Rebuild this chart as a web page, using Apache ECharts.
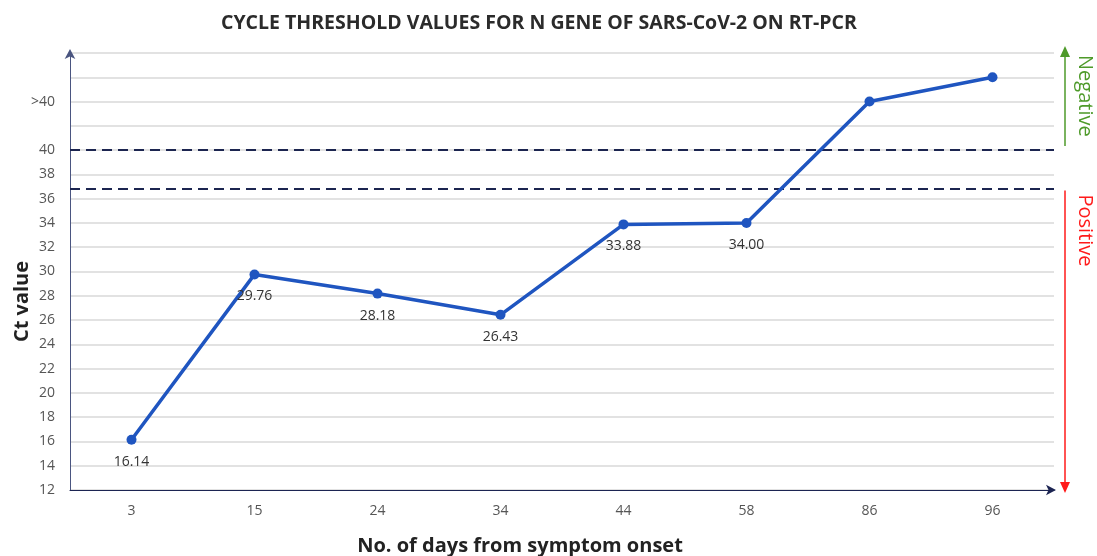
<!DOCTYPE html>
<html>
<head>
<meta charset="utf-8">
<script src="https://cdn.jsdelivr.net/npm/echarts@6/dist/echarts.min.js"></script>
<style>html,body{margin:0;padding:0;background:#fff;}#c{width:1097px;height:556px;}</style>
</head>
<body>
<div id="c"></div>
<script>
const categories = ['3', '15', '24', '34', '44', '58', '86', '96'];
// values above 40 are plotted in the ">40" band (44 = ">40" tick)
const ctValues = [16.14, 29.76, 28.18, 26.43, 33.88, 34.00, 44, 46];
const cutoffLines = [40, 36.8];
const yMin = 12, yMax = 48, yStep = 2;
const overLabelValue = 44;

const FONT = '"Open Sans", "Noto Sans", sans-serif';
const chart = echarts.init(document.getElementById('c'));
chart.setOption({
  animation: false,
  backgroundColor: '#fff',
  title: {
    text: 'CYCLE THRESHOLD VALUES FOR N GENE OF SARS-CoV-2 ON RT-PCR',
    left: 216, top: 8,
    textStyle: { fontFamily: FONT, fontSize: 19.5, fontWeight: 'bold', color: '#2b2b2b' }
  },
  grid: { left: 70, right: 43, top: 53, bottom: 66, outerBoundsMode: 'none', containLabel: false },
  xAxis: {
    type: 'category',
    data: categories,
    name: 'No. of days from symptom onset',
    nameLocation: 'middle', nameGap: 46,
    nameTextStyle: { fontFamily: FONT, fontSize: 20, fontWeight: 'bold', color: '#222', padding: [0, 84, 0, 0] },
    axisTick: { show: false },
    axisLine: { lineStyle: { color: '#1c2452', width: 1 }, symbol: ['none', 'arrow'], symbolSize: [8, 10], symbolOffset: [0, 2] },
    axisLabel: { fontFamily: FONT, fontSize: 14, color: '#555', margin: 14 }
  },
  yAxis: {
    type: 'value', min: yMin, max: yMax, interval: yStep,
    axisLine: { show: true, lineStyle: { color: '#4a5580', width: 1 }, symbol: ['none', 'arrow'], symbolSize: [8, 10], symbolOffset: [0, 4] },
    axisTick: { show: false },
    axisLabel: {
      fontFamily: FONT, fontSize: 14, color: '#555', margin: 15,
      formatter: v => v <= 40 ? String(v) : (v === overLabelValue ? '>40' : '')
    },
    splitLine: { lineStyle: { color: '#d9d9d9', width: 1.5 } }
  },
  series: [{
    type: 'line',
    data: ctValues,
    symbol: 'circle', symbolSize: 10,
    lineStyle: { color: '#1f55c0', width: 3.5 },
    itemStyle: { color: '#1f55c0' },
    label: {
      show: true, position: 'bottom', distance: 10,
      fontFamily: FONT, fontSize: 14, color: '#333',
      formatter: p => p.value <= 40 ? p.value.toFixed(2) : ''
    },
    markLine: {
      silent: true, symbol: 'none',
      label: { show: false },
      lineStyle: { type: [10, 6], color: '#1c2550', width: 2 },
      data: cutoffLines.map(v => ({ yAxis: v }))
    },
    z: 5
  }]
});

function px(v) { return chart.convertToPixel({ yAxisIndex: 0 }, v); }
const gridRight = 1097 - 43;
const ax = gridRight + 11;
const g40 = px(40), gTop = px(yMax), g37 = px(37), gBot = px(yMin);
chart.setOption({
  graphic: [
    { type: 'text', x: 22, y: (gTop + gBot) / 2 + 30, rotation: Math.PI / 2,
      style: { text: 'Ct value', fill: '#222', font: 'bold 20px ' + FONT, align: 'center', verticalAlign: 'middle' } },
    { type: 'line', shape: { x1: ax, y1: g40 - 4, x2: ax, y2: gTop + 2 }, style: { stroke: '#4e9a2a', lineWidth: 1.5 } },
    { type: 'polygon', shape: { points: [[ax - 5, gTop + 4], [ax + 5, gTop + 4], [ax, gTop - 7]] }, style: { fill: '#4e9a2a' } },
    { type: 'text', x: ax + 20, y: gTop + 2, rotation: -Math.PI / 2,
      style: { text: 'Negative', fill: '#4e9a2a', font: '20px ' + FONT, align: 'left', verticalAlign: 'middle' } },
    { type: 'line', shape: { x1: ax, y1: g37 + 4, x2: ax, y2: gBot - 4 }, style: { stroke: '#ff1a1a', lineWidth: 1.5 } },
    { type: 'polygon', shape: { points: [[ax - 5, gBot - 8], [ax + 5, gBot - 8], [ax, gBot + 3]] }, style: { fill: '#ff1a1a' } },
    { type: 'text', x: ax + 20, y: g37 + 8, rotation: -Math.PI / 2,
      style: { text: 'Positive', fill: '#ff1a1a', font: '20px ' + FONT, align: 'left', verticalAlign: 'middle' } }
  ]
});
</script>
</body>
</html>
